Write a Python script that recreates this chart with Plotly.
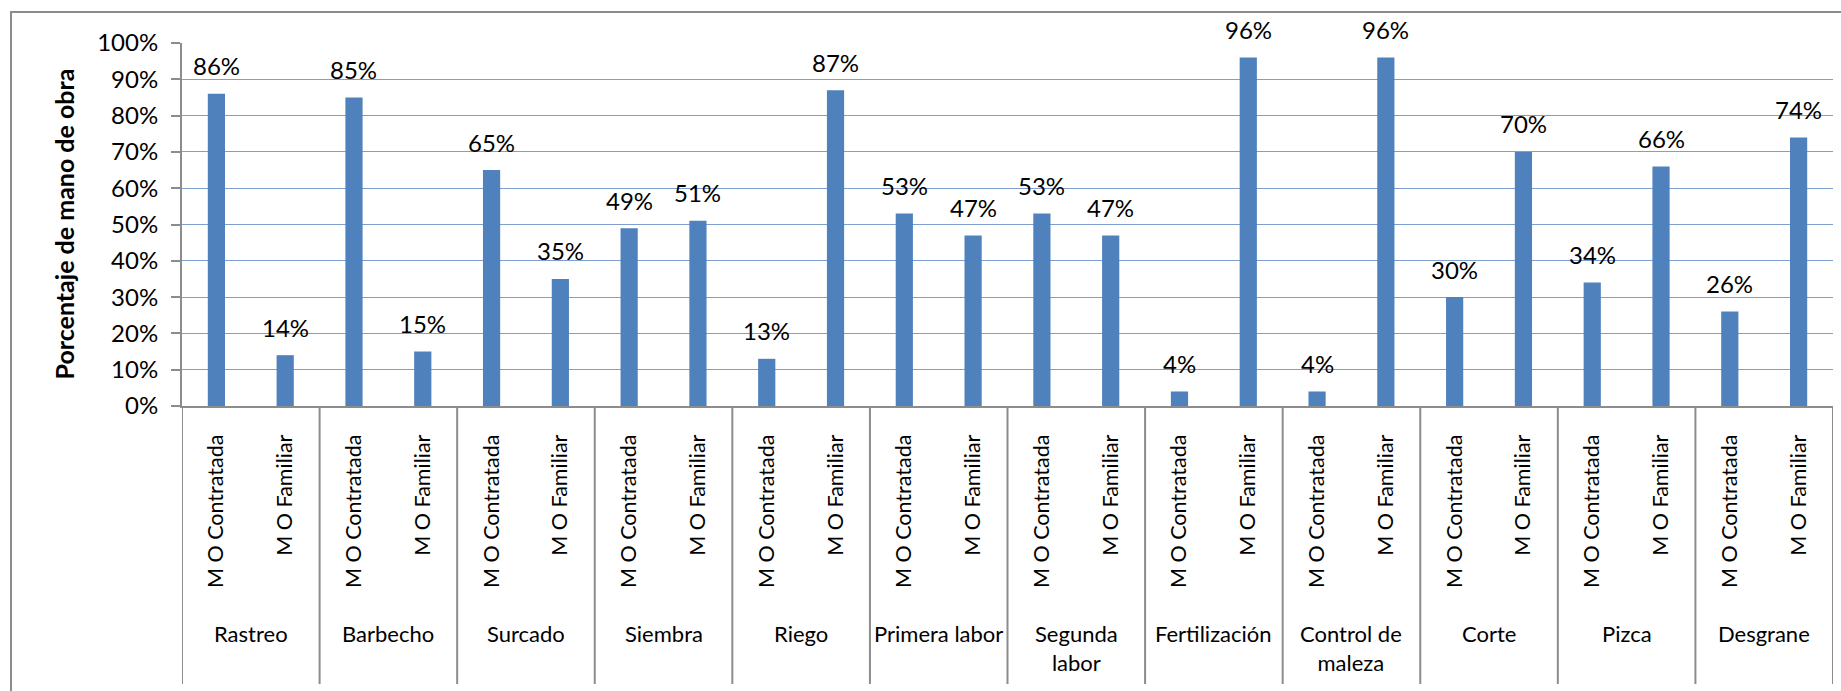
import plotly.graph_objects as go

# Labour tasks (outer category level) and labour type (inner level)
tareas = ["Rastreo", "Barbecho", "Surcado", "Siembra", "Riego", "Primera labor",
          "Segunda<br>labor", "Fertilización", "Control de<br>maleza", "Corte",
          "Pizca", "Desgrane"]
tipos = ["M O Contratada", "M O Familiar"]

# Percentage of labour per task: hired vs family
contratada = [86, 85, 65, 49, 13, 53, 53, 4, 4, 30, 34, 26]
familiar = [14, 15, 35, 51, 87, 47, 47, 96, 96, 70, 66, 74]

y_ticks = list(range(0, 101, 10))

valores = []
etiquetas_x = []
for c, f in zip(contratada, familiar):
    valores += [c, f]
    etiquetas_x += tipos
posiciones = list(range(len(valores)))

FONT = "Lato"
GRIS = "#8c8c8c"
AZUL = "#4F81BD"

W, H = 1841, 691
ML, MR, MT, MB = 182, 8, 43, 285
plot_w = W - ML - MR
plot_h = H - MT - MB


def py(px):
    """Pixel row -> paper y coordinate."""
    return (H - MB - px) / plot_h


def px_(x):
    """Pixel column -> paper x coordinate."""
    return (x - ML) / plot_w


fig = go.Figure()
fig.add_trace(go.Bar(
    x=posiciones, y=valores, marker=dict(color=AZUL, line=dict(width=0)),
    width=0.25, hoverinfo="skip", showlegend=False,
))

annotations = []
# Value labels above bars
for x, v in zip(posiciones, valores):
    annotations.append(dict(
        x=x, y=v, xref="x", yref="y", text=f"{v}%", showarrow=False,
        yanchor="middle", yshift=28, font=dict(family=FONT, size=24, color="black"),
    ))
# Outer category labels (tasks)
for i, t in enumerate(tareas):
    annotations.append(dict(
        x=2 * i + 0.5, y=py(618), xref="x", yref="paper", text=t, showarrow=False,
        yanchor="top", xanchor="center", align="center",
        font=dict(family=FONT, size=22, color="black"),
    ))
# Value axis title
annotations.append(dict(
    x=px_(63), y=0.5, xref="paper", yref="paper",
    text="<b>Porcentaje de mano de obra</b>", showarrow=False, textangle=-90,
    xanchor="center", yanchor="middle",
    font=dict(family=FONT, size=25, color="black"),
))

shapes = []
# Group dividers below the category axis
for i in range(len(tareas) + 1):
    shapes.append(dict(
        type="line", xref="x", yref="paper", x0=2 * i - 0.5, x1=2 * i - 0.5,
        y0=0, y1=py(684), line=dict(color=GRIS, width=2),
    ))
# Chart frame
shapes.append(dict(
    type="rect", xref="paper", yref="paper",
    x0=px_(11), x1=1.02, y0=py(720), y1=py(12),
    line=dict(color=GRIS, width=2), fillcolor="rgba(0,0,0,0)", layer="below",
))

fig.update_layout(
    width=W, height=H,
    margin=dict(l=ML, r=MR, t=MT, b=MB, pad=0),
    paper_bgcolor="white", plot_bgcolor="white",
    font=dict(family=FONT, size=22, color="black"),
    bargap=0.75,
    xaxis=dict(
        range=[-0.5, len(valores) - 0.5], tickmode="array",
        tickvals=posiciones, ticktext=etiquetas_x, tickangle=-90,
        ticks="", showgrid=False, zeroline=False,
        showline=True, linecolor=GRIS, linewidth=2,
        tickfont=dict(family=FONT, size=21.5), ticklabelstandoff=18,
    ),
    yaxis=dict(
        range=[0, 100], tickmode="array", tickvals=y_ticks,
        ticktext=[f"{v}%" for v in y_ticks],
        ticks="outside", ticklen=9, tickcolor=GRIS, tickwidth=2,
        showline=True, linecolor=GRIS, linewidth=2,
        showgrid=True, gridcolor="#7f9fd0", gridwidth=1, zeroline=False,
        tickfont=dict(family=FONT, size=24), ticklabelstandoff=8,
    ),
    annotations=annotations,
    shapes=shapes,
)

fig.write_html("out.html")
